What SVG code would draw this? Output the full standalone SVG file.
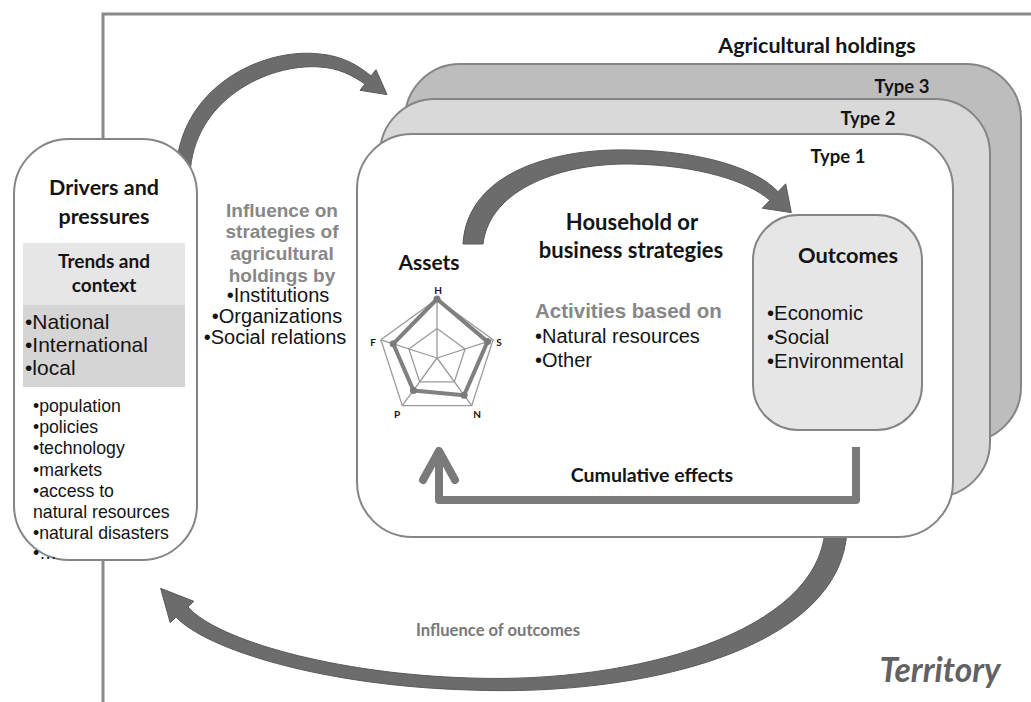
<svg xmlns="http://www.w3.org/2000/svg" width="1031" height="702" viewBox="0 0 1031 702">
<style>
.cb{font-family:Lato,"Liberation Sans",sans-serif;font-weight:bold;fill:#141414}
.ar{font-family:"Liberation Sans",Arial,sans-serif;fill:#141414}
.gb{font-family:"Liberation Sans",Arial,sans-serif;font-weight:bold;fill:#878787}
.box{stroke:#858585;stroke-width:2}
.arrow{fill:#6c6c6c;stroke:#5a5a5a;stroke-width:1;stroke-linejoin:round}
.mid{text-anchor:middle}
</style>
<rect width="1031" height="702" fill="#fff"/>
<g id="territory">
<path d="M103,702 V14 H1031" fill="none" stroke="#8a8a8a" stroke-width="3"/>
<text x="940" y="682" class="cb mid" style="font-style:italic;fill:#626262" font-size="33.5">Territory</text>
</g>
<g id="connectors">
<path class="arrow" d="M176,175 C177,88 262,47 320,54 C342,56 358,65 371,76 L376,69.7 L387,94.6 L360,90.3 L365,84 C352,75 338,68 320,67 C268,63 193,100 190,175 Z"/>
<path class="arrow" d="M847,530 C842,648 645,697 470,690 C325,686 207,650 176,617 L170.2,622.7 L160.6,588.3 L193.8,601.3 L188,607 C217,640 335,674 470,678 C635,684 818,632 825,530 Z"/>
</g>
<g id="holdings">
<rect class="box" x="405" y="64" width="616" height="378" rx="55" fill="#bdbdbd"/>
<rect class="box" x="380" y="99" width="610" height="398" rx="55" fill="#d9d9d9"/>
<rect class="box" x="357" y="134" width="596" height="403" rx="55" fill="#fff"/>
<text x="817" y="53" class="cb mid" font-size="21.5">Agricultural holdings</text>
<text x="902" y="93" class="cb mid" font-size="18.5">Type 3</text>
<text x="868" y="125" class="cb mid" font-size="18.5">Type 2</text>
<text x="838" y="163" class="cb mid" font-size="18.5">Type 1</text>
</g>
<g id="drivers">
<rect class="box" x="14" y="139" width="183" height="421" rx="55" fill="#fff"/>
<rect x="23" y="243" width="162" height="62" fill="#e6e6e6"/>
<rect x="23" y="305" width="162" height="82" fill="#d5d5d5"/>
<text x="104" y="195" class="cb mid" font-size="21.5">Drivers and</text>
<text x="104" y="224" class="cb mid" font-size="21.5">pressures</text>
<text x="104" y="268" class="cb mid" font-size="19">Trends and</text>
<text x="104" y="292" class="cb mid" font-size="19">context</text>
<text x="25" y="329" class="ar" font-size="21">•National</text>
<text x="25" y="352" class="ar" font-size="21">•International</text>
<text x="25" y="375" class="ar" font-size="21">•local</text>
<text x="33" y="412" class="ar" font-size="17.7">•population</text>
<text x="33" y="433" class="ar" font-size="17.7">•policies</text>
<text x="33" y="454" class="ar" font-size="17.7">•technology</text>
<text x="33" y="476" class="ar" font-size="17.7">•markets</text>
<text x="33" y="497" class="ar" font-size="17.7">•access to</text>
<text x="33" y="518" class="ar" font-size="17.7">natural resources</text>
<text x="33" y="539" class="ar" font-size="17.7">•natural disasters</text>
<text x="33" y="559" class="ar" font-size="17.7">•…</text>
</g>
<g id="influence">
<text x="282" y="217" class="gb mid" font-size="19">Influence on</text>
<text x="282" y="238" class="gb mid" font-size="19">strategies of</text>
<text x="282" y="260" class="gb mid" font-size="19">agricultural</text>
<text x="282" y="282" class="gb mid" font-size="19">holdings by</text>
<text x="278" y="302" class="ar mid" font-size="20">•Institutions</text>
<text x="277" y="323" class="ar mid" font-size="20">•Organizations</text>
<text x="275" y="344" class="ar mid" font-size="20">•Social relations</text>
</g>
<g id="assets-arrow">
<path class="arrow" d="M463,244 C467,172 555,148 630,150 C703,151 757,169 778,191.7 L785.7,183.8 L791.3,212.6 L762.3,208.2 L769.9,200.3 C748,181 698,165 630,164 C565,163 490,187 483,244 Z"/>
</g>
<g id="assets">
<text x="429" y="270" class="cb mid" font-size="21">Assets</text>
<g fill="none" stroke="#9a9a9a" stroke-width="1.3">
<polygon points="437,299 493.1,339.8 471.7,405.7 402.3,405.7 380.9,339.8"/>
<polygon points="437,328.5 465.1,348.9 454.3,381.9 419.7,381.9 408.9,348.9"/>
<path d="M437,358 L437,299 M437,358 L493.1,339.8 M437,358 L471.7,405.7 M437,358 L402.3,405.7 M437,358 L380.9,339.8"/>
</g>
<polygon points="437,299 487.5,341.6 464.1,395.2 413.4,390.4 393.2,343.8" fill="none" stroke="#808080" stroke-width="4" stroke-linejoin="round"/>
<g fill="#7a7a7a">
<circle cx="437" cy="299" r="3.5"/><circle cx="487.5" cy="341.6" r="3.5"/><circle cx="464.1" cy="395.2" r="3.5"/><circle cx="413.4" cy="390.4" r="3.5"/><circle cx="393.2" cy="343.8" r="3.5"/>
</g>
<g class="cb mid" font-size="10">
<text x="438" y="294">H</text>
<text x="499" y="346">S</text>
<text x="477" y="418">N</text>
<text x="397" y="418">P</text>
<text x="373" y="346">F</text>
</g>
</g>
<g id="strategies">
<text x="632" y="230" class="cb mid" font-size="22">Household or</text>
<text x="631" y="258" class="cb mid" font-size="22">business strategies</text>
<text x="535" y="318" class="gb" font-size="20.5">Activities based on</text>
<text x="535" y="343" class="ar" font-size="20">•Natural resources</text>
<text x="535" y="367" class="ar" font-size="20">•Other</text>
</g>
<g id="outcomes">
<rect class="box" x="753" y="215" width="169" height="215" rx="45" fill="#e6e6e6"/>
<text x="848" y="263" class="cb mid" font-size="21.8">Outcomes</text>
<text x="767" y="320" class="ar" font-size="20.3">•Economic</text>
<text x="767" y="344" class="ar" font-size="20.3">•Social</text>
<text x="767" y="368" class="ar" font-size="20.3">•Environmental</text>
</g>
<g id="cumulative">
<path d="M856,447 V500 H439 V456" fill="none" stroke="#7a7a7a" stroke-width="8" stroke-linejoin="round"/>
<polyline points="423,480 439,451 455,480" fill="none" stroke="#7a7a7a" stroke-width="8" stroke-linecap="round" stroke-linejoin="round"/>
<text x="652" y="482" class="cb mid" font-size="19.5">Cumulative effects</text>
</g>
<text x="498" y="636" class="cb mid" font-size="16.6" style="fill:#787878">Influence of outcomes</text>
</svg>
